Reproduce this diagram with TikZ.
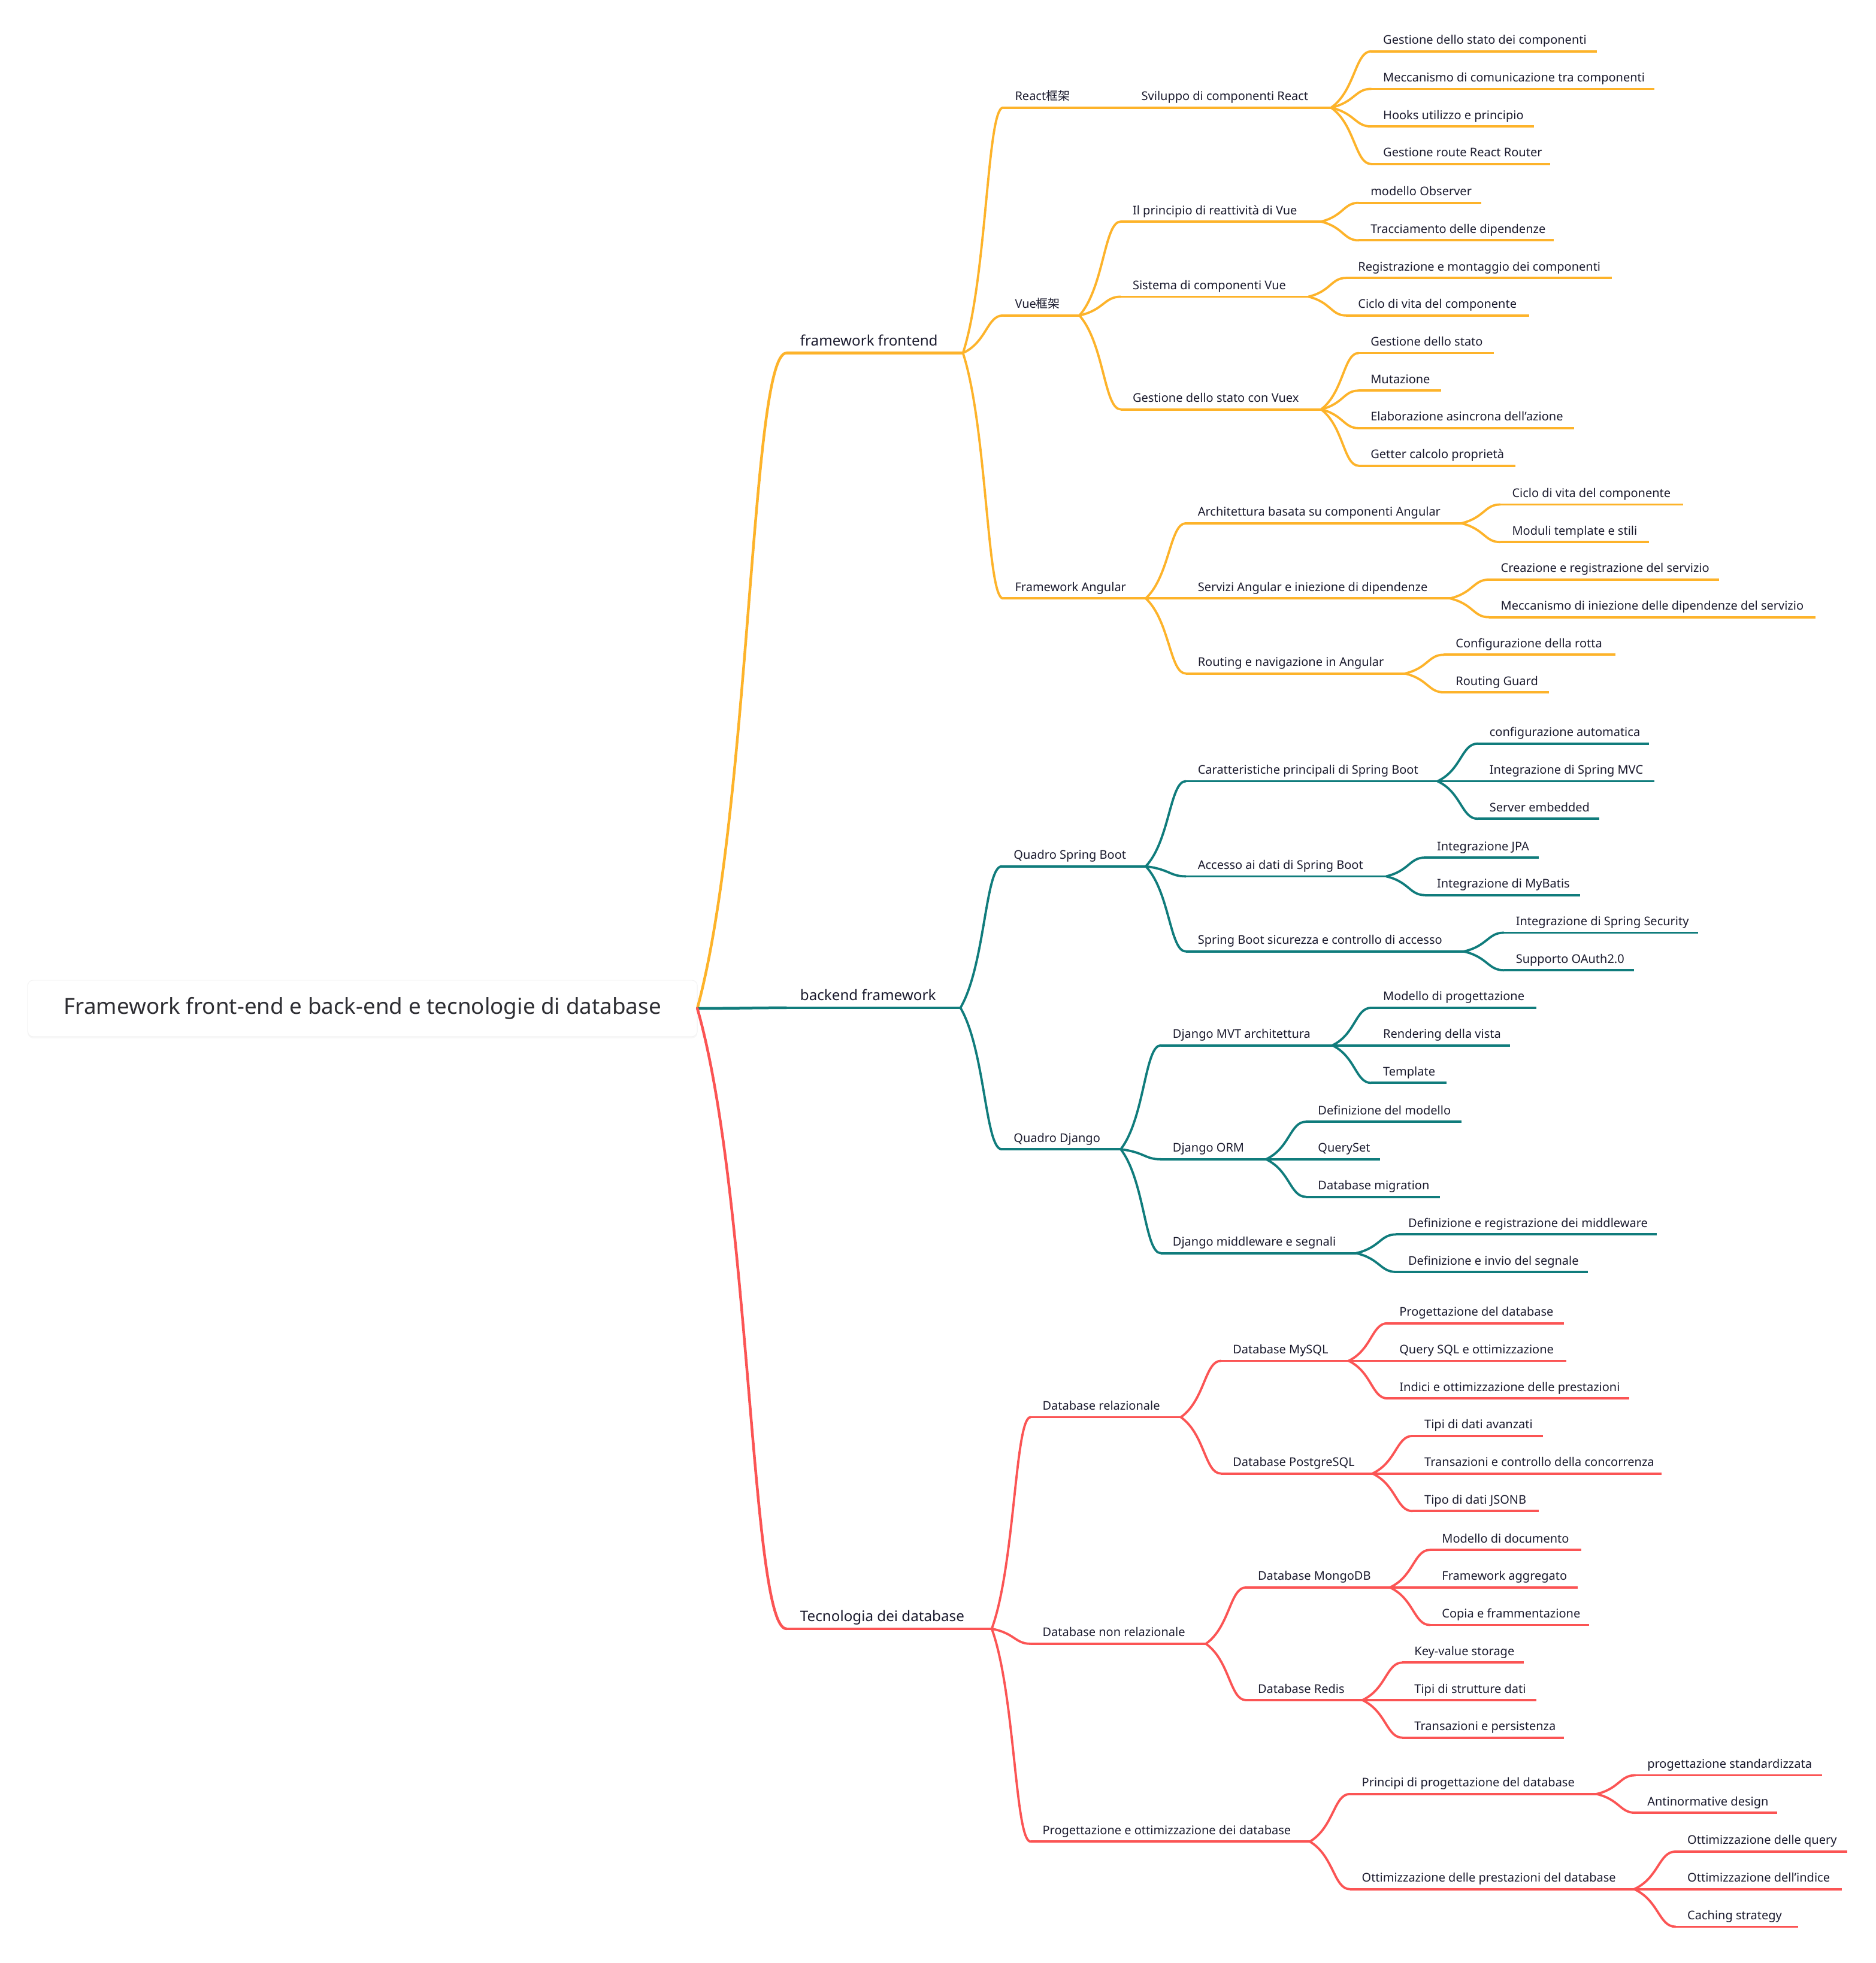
\documentclass[tikz,border=0pt]{standalone}
\usepackage{fontspec}
\setmainfont{Noto Sans}
\newfontfamily\cjk{Noto Sans CJK SC}
\usetikzlibrary{calc,shadows}
\definecolor{colo}{HTML}{FDB32A}
\definecolor{colt}{HTML}{107C7C}
\definecolor{colr}{HTML}{FB5454}
\definecolor{txt}{HTML}{1B1B2E}
\definecolor{roottxt}{HTML}{2E2E33}
\tikzset{
  bar/.style={inner sep=0pt, outer sep=0pt, minimum height=0pt},
  lbl/.style={anchor=base west, inner sep=0pt, outer sep=0pt, xshift=20pt, yshift=12pt, text=txt, font=\fontsize{20}{24}\selectfont},
  big/.style={font=\fontsize{24.2}{29}\selectfont, xshift=3pt},
  ln/.style={line width=3.8pt, line cap=butt},
  lnbig/.style={line width=4.5pt},
  cO/.style={draw=colo},
  cT/.style={draw=colt},
  cR/.style={draw=colr},
  rootbox/.style={rectangle, rounded corners=9pt, fill=white, draw=black!5, line width=1pt,
    minimum width=1118pt, minimum height=94pt, inner sep=0pt, outer sep=0pt, text=roottxt,
    font=\fontsize{36.8}{42}\selectfont,
    drop shadow={opacity=0.06, shadow xshift=0pt, shadow yshift=-3pt}}
}
% name, colour style, x start, x end, y, text, extra label style, extra line style
\newcommand\mmn[8]{%
  \node[bar, minimum width={(#4-#3)*2.0908pt}, anchor=west,
        label={[lbl,#7]north west:{#6}}] (#1) at (#3,#5) {};
  \draw[ln,#2,#8] (#1.west) -- (#1.east);
}
% colour style, parent, child, extra
\newcommand\mmc[4]{%
  \draw[ln,#1,#4,line cap=round] let \p1=(#2.east), \p2=(#3.west) in
    (\p1) .. controls ({\x1+0.6*(\x2-\x1)},{\y1+0.3*(\y2-\y1)}) and ({\x1+0.6*(\x2-\x1)},\y2) .. (\p2);
}
\begin{document}
\begin{tikzpicture}[x=2.0908pt,y=-2.0908pt]
\useasboundingbox (0,0) rectangle (1498,1568);
\fill[white] (0,0) rectangle (1498,1568);

\node[rootbox] (root) at (289.5,805.5) {Framework front-end e back-end e tecnologie di database};

% level 1
\mmn{fe}{cO}{628}{769}{282}{framework frontend}{big}{lnbig}
\mmn{be}{cT}{628}{767}{805}{backend framework}{big}{lnbig}
\mmn{db}{cR}{628}{792}{1301}{Tecnologia dei database}{big}{lnbig}
\mmc{cO}{root}{fe}{lnbig}
\mmc{cT}{root}{be}{lnbig}
\mmc{cR}{root}{db}{lnbig}

% ---------- frontend
\mmn{react}{cO}{801}{862}{86}{React{\cjk 框架}}{}{}
\mmn{vue}{cO}{801}{862}{252}{Vue{\cjk 框架}}{}{}
\mmn{ang}{cO}{801}{915}{478}{Framework Angular}{}{}
\mmc{cO}{fe}{react}{}
\mmc{cO}{fe}{vue}{}
\mmc{cO}{fe}{ang}{}

\mmn{svil}{cO}{902}{1063}{86}{Sviluppo di componenti React}{}{}
\mmc{cO}{react}{svil}{}
\mmn{r1}{cO}{1095}{1275}{41}{Gestione dello stato dei componenti}{}{}
\mmn{r2}{cO}{1095}{1321}{71}{Meccanismo di comunicazione tra componenti}{}{}
\mmn{r3}{cO}{1095}{1225}{101}{Hooks utilizzo e principio}{}{}
\mmn{r4}{cO}{1095}{1238}{131}{Gestione route React Router}{}{}
\mmc{cO}{svil}{r1}{}
\mmc{cO}{svil}{r2}{}
\mmc{cO}{svil}{r3}{}
\mmc{cO}{svil}{r4}{}

\mmn{v1}{cO}{895}{1055}{177}{Il principio di reattività di Vue}{}{}
\mmn{v2}{cO}{895}{1045}{237}{Sistema di componenti Vue}{}{}
\mmn{v3}{cO}{895}{1055}{327}{Gestione dello stato con Vuex}{}{}
\mmc{cO}{vue}{v1}{}
\mmc{cO}{vue}{v2}{}
\mmc{cO}{vue}{v3}{}
\mmn{v11}{cO}{1085}{1183}{162}{modello Observer}{}{}
\mmn{v12}{cO}{1085}{1241}{192}{Tracciamento delle dipendenze}{}{}
\mmc{cO}{v1}{v11}{}
\mmc{cO}{v1}{v12}{}
\mmn{v21}{cO}{1075}{1287}{222}{Registrazione e montaggio dei componenti}{}{}
\mmn{v22}{cO}{1075}{1221}{252}{Ciclo di vita del componente}{}{}
\mmc{cO}{v2}{v21}{}
\mmc{cO}{v2}{v22}{}
\mmn{v31}{cO}{1085}{1193}{282}{Gestione dello stato}{}{}
\mmn{v32}{cO}{1085}{1151}{312}{Mutazione}{}{}
\mmn{v33}{cO}{1085}{1257}{342}{Elaborazione asincrona dell'azione}{}{}
\mmn{v34}{cO}{1085}{1210}{372}{Getter calcolo proprietà}{}{}
\mmc{cO}{v3}{v31}{}
\mmc{cO}{v3}{v32}{}
\mmc{cO}{v3}{v33}{}
\mmc{cO}{v3}{v34}{}

\mmn{a1}{cO}{947}{1167}{418}{Architettura basata su componenti Angular}{}{}
\mmn{a2}{cO}{947}{1158}{478}{Servizi Angular e iniezione di dipendenze}{}{}
\mmn{a3}{cO}{947}{1122}{538}{Routing e navigazione in Angular}{}{}
\mmc{cO}{ang}{a1}{}
\mmc{cO}{ang}{a2}{}
\mmc{cO}{ang}{a3}{}
\mmn{a11}{cO}{1198}{1344}{403}{Ciclo di vita del componente}{}{}
\mmn{a12}{cO}{1198}{1317}{433}{Moduli template e stili}{}{}
\mmc{cO}{a1}{a11}{}
\mmc{cO}{a1}{a12}{}
\mmn{a21}{cO}{1189}{1373}{463}{Creazione e registrazione del servizio}{}{}
\mmn{a22}{cO}{1189}{1450}{493}{Meccanismo di iniezione delle dipendenze del servizio}{}{}
\mmc{cO}{a2}{a21}{}
\mmc{cO}{a2}{a22}{}
\mmn{a31}{cO}{1153}{1290}{523}{Configurazione della rotta}{}{}
\mmn{a32}{cO}{1153}{1237}{553}{Routing Guard}{}{}
\mmc{cO}{a3}{a31}{}
\mmc{cO}{a3}{a32}{}

% ---------- backend
\mmn{sb}{cT}{800}{915}{692}{Quadro Spring Boot}{}{}
\mmn{dj}{cT}{800}{895}{918}{Quadro Django}{}{}
\mmc{cT}{be}{sb}{}
\mmc{cT}{be}{dj}{}

\mmn{s1}{cT}{947}{1148}{624}{Caratteristiche principali di Spring Boot}{}{}
\mmn{s2}{cT}{947}{1107}{700}{Accesso ai dati di Spring Boot}{}{}
\mmn{s3}{cT}{947}{1169}{760}{Spring Boot sicurezza e controllo di accesso}{}{}
\mmc{cT}{sb}{s1}{}
\mmc{cT}{sb}{s2}{}
\mmc{cT}{sb}{s3}{}
\mmn{s11}{cT}{1180}{1317}{594}{configurazione automatica}{}{}
\mmn{s12}{cT}{1180}{1321}{624}{Integrazione di Spring MVC}{}{}
\mmn{s13}{cT}{1180}{1277}{654}{Server embedded}{}{}
\mmc{cT}{s1}{s11}{}
\mmc{cT}{s1}{s12}{}
\mmc{cT}{s1}{s13}{}
\mmn{s21}{cT}{1138}{1229}{685}{Integrazione JPA}{}{}
\mmn{s22}{cT}{1138}{1262}{715}{Integrazione di MyBatis}{}{}
\mmc{cT}{s2}{s21}{}
\mmc{cT}{s2}{s22}{}
\mmn{s31}{cT}{1201}{1356}{745}{Integrazione di Spring Security}{}{}
\mmn{s32}{cT}{1201}{1305}{775}{Supporto OAuth2.0}{}{}
\mmc{cT}{s3}{s31}{}
\mmc{cT}{s3}{s32}{}

\mmn{d1}{cT}{927}{1064}{835}{Django MVT architettura}{}{}
\mmn{d2}{cT}{927}{1011}{926}{Django ORM}{}{}
\mmn{d3}{cT}{927}{1083}{1001}{Django middleware e segnali}{}{}
\mmc{cT}{dj}{d1}{}
\mmc{cT}{dj}{d2}{}
\mmc{cT}{dj}{d3}{}
\mmn{d11}{cT}{1095}{1227}{805}{Modello di progettazione}{}{}
\mmn{d12}{cT}{1095}{1206}{835}{Rendering della vista}{}{}
\mmn{d13}{cT}{1095}{1155}{865}{Template}{}{}
\mmc{cT}{d1}{d11}{}
\mmc{cT}{d1}{d12}{}
\mmc{cT}{d1}{d13}{}
\mmn{d21}{cT}{1043}{1167}{896}{Definizione del modello}{}{}
\mmn{d22}{cT}{1043}{1102}{926}{QuerySet}{}{}
\mmn{d23}{cT}{1043}{1150}{956}{Database migration}{}{}
\mmc{cT}{d2}{d21}{}
\mmc{cT}{d2}{d22}{}
\mmc{cT}{d2}{d23}{}
\mmn{d31}{cT}{1115}{1323}{986}{Definizione e registrazione dei middleware}{}{}
\mmn{d32}{cT}{1115}{1268}{1016}{Definizione e invio del segnale}{}{}
\mmc{cT}{d3}{d31}{}
\mmc{cT}{d3}{d32}{}

% ---------- database
\mmn{rel}{cR}{823}{943}{1132}{Database relazionale}{}{}
\mmn{nrel}{cR}{823}{963}{1313}{Database non relazionale}{}{}
\mmn{prog}{cR}{823}{1046}{1471}{Progettazione e ottimizzazione dei database}{}{}
\mmc{cR}{db}{rel}{}
\mmc{cR}{db}{nrel}{}
\mmc{cR}{db}{prog}{}

\mmn{my}{cR}{975}{1077}{1087}{Database MySQL}{}{}
\mmn{pg}{cR}{975}{1096}{1177}{Database PostgreSQL}{}{}
\mmc{cR}{rel}{my}{}
\mmc{cR}{rel}{pg}{}
\mmn{m1}{cR}{1108}{1249}{1057}{Progettazione del database}{}{}
\mmn{m2}{cR}{1108}{1251}{1087}{Query SQL e ottimizzazione}{}{}
\mmn{m3}{cR}{1108}{1301}{1117}{Indici e ottimizzazione delle prestazioni}{}{}
\mmc{cR}{my}{m1}{}
\mmc{cR}{my}{m2}{}
\mmc{cR}{my}{m3}{}
\mmn{p1}{cR}{1128}{1232}{1147}{Tipi di dati avanzati}{}{}
\mmn{p2}{cR}{1128}{1327}{1177}{Transazioni e controllo della concorrenza}{}{}
\mmn{p3}{cR}{1128}{1229}{1207}{Tipo di dati JSONB}{}{}
\mmc{cR}{pg}{p1}{}
\mmc{cR}{pg}{p2}{}
\mmc{cR}{pg}{p3}{}

\mmn{mg}{cR}{995}{1110}{1268}{Database MongoDB}{}{}
\mmn{rd}{cR}{995}{1088}{1358}{Database Redis}{}{}
\mmc{cR}{nrel}{mg}{}
\mmc{cR}{nrel}{rd}{}
\mmn{g1}{cR}{1142}{1263}{1238}{Modello di documento}{}{}
\mmn{g2}{cR}{1142}{1260}{1268}{Framework aggregato}{}{}
\mmn{g3}{cR}{1142}{1269}{1298}{Copia e frammentazione}{}{}
\mmc{cR}{mg}{g1}{}
\mmc{cR}{mg}{g2}{}
\mmc{cR}{mg}{g3}{}
\mmn{e1}{cR}{1120}{1217}{1328}{Key-value storage}{}{}
\mmn{e2}{cR}{1120}{1227}{1358}{Tipi di strutture dati}{}{}
\mmn{e3}{cR}{1120}{1249}{1388}{Transazioni e persistenza}{}{}
\mmc{cR}{rd}{e1}{}
\mmc{cR}{rd}{e2}{}
\mmc{cR}{rd}{e3}{}

\mmn{pr1}{cR}{1078}{1275}{1433}{Principi di progettazione del database}{}{}
\mmn{pr2}{cR}{1078}{1305}{1509}{Ottimizzazione delle prestazioni del database}{}{}
\mmc{cR}{prog}{pr1}{}
\mmc{cR}{prog}{pr2}{}
\mmn{q11}{cR}{1306}{1455}{1418}{progettazione standardizzata}{}{}
\mmn{q12}{cR}{1306}{1419}{1448}{Antinormative design}{}{}
\mmc{cR}{pr1}{q11}{}
\mmc{cR}{pr1}{q12}{}
\mmn{q21}{cR}{1338}{1475}{1479}{Ottimizzazione delle query}{}{}
\mmn{q22}{cR}{1338}{1471}{1509}{Ottimizzazione dell'indice}{}{}
\mmn{q23}{cR}{1338}{1436}{1539}{Caching strategy}{}{}
\mmc{cR}{pr2}{q21}{}
\mmc{cR}{pr2}{q22}{}
\mmc{cR}{pr2}{q23}{}
\end{tikzpicture}
\end{document}
